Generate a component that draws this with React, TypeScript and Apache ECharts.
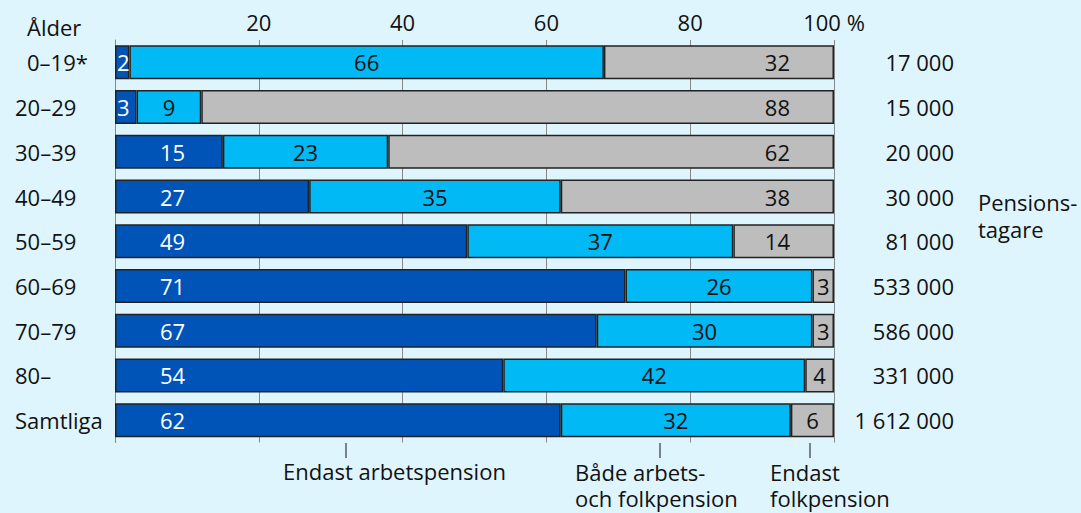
import React, { useEffect, useRef } from "react";
import * as echarts from "echarts";

const categories = ["0–19*", "20–29", "30–39", "40–49", "50–59", "60–69", "70–79", "80–", "Samtliga"];
const onlyWork = [2, 3, 15, 27, 49, 71, 67, 54, 62];
const both = [66, 9, 23, 35, 37, 26, 30, 42, 32];
const onlyFolk = [32, 88, 62, 38, 14, 3, 3, 4, 6];
const pensioners = ["17 000", "15 000", "20 000", "30 000", "81 000", "533 000", "586 000", "331 000", "1 612 000"];
const seriesNames = ["Endast arbetspension", "Både arbets-\noch folkpension", "Endast\nfolkpension"];
const rightTitle = ["Pensions-", "tagare"];

const FONT = "Open Sans";
const FS = 22;
const BG = "#dff5fd";
const DARK = "#0054b8";
const CYAN = "#00b9f5";
const GRAY = "#bdbdbd";
const BORDER = "#222222";

export default function App() {
  const ref = useRef<HTMLDivElement>(null);
  useEffect(() => {
    document.body.style.margin = "0";
    const chart = echarts.init(ref.current!, null, { renderer: "svg" });
    const itemBase = { borderColor: BORDER, borderWidth: 1.5 };
    const font = `${FS}px '${FONT}'`;
    const lineTexts = (lines: string[], left: number, top: number, step: number) =>
      lines.map((t, i) => ({ type: "text", left, top: top + i * step, style: { text: t, font, fill: "#111" } }));
    chart.setOption({
      animation: false,
      backgroundColor: BG,
      textStyle: { fontFamily: FONT, fontSize: FS, color: "#111" },
      grid: { left: 115, right: 247, top: 40, bottom: 70.5 },
      xAxis: {
        type: "value",
        position: "top",
        min: 0,
        max: 100,
        interval: 20,
        axisLine: { show: false },
        axisTick: { show: false },
        axisLabel: {
          margin: 7,
          fontFamily: FONT,
          fontSize: FS,
          color: "#111",
          formatter: (v: number) => (v === 0 ? "" : v === 100 ? "100 %" : String(v)),
        },
        splitLine: { show: true, lineStyle: { color: "#888", width: 1 } },
      },
      yAxis: [
        {
          type: "category",
          data: categories,
          inverse: true,
          axisLine: { show: true, lineStyle: { color: "#888", width: 1 } },
          axisTick: { show: false },
          axisLabel: {
            align: "left",
            margin: 100,
            fontFamily: FONT,
            fontSize: FS,
            color: "#111",
            formatter: (v: string) => (v === categories[0] ? "{ind|" + v + "}" : v),
            rich: { ind: { padding: [0, 0, 0, 12], fontFamily: FONT, fontSize: FS, color: "#111" } },
          },
        },
        {
          type: "category",
          data: pensioners,
          inverse: true,
          position: "right",
          axisLine: { show: false },
          axisTick: { show: false },
          axisLabel: { align: "right", margin: 120, fontFamily: FONT, fontSize: FS, color: "#111" },
        },
      ],
      series: [
        {
          name: seriesNames[0],
          type: "bar",
          stack: "a",
          barWidth: 34,
          yAxisIndex: 0,
          itemStyle: { color: DARK, ...itemBase },
          label: { show: true, position: "insideLeft", color: "#fff", fontFamily: FONT, fontSize: FS },
          data: onlyWork.map((v) => ({ value: v, label: { distance: v < 5 ? 2 : 45 } })),
        },
        {
          name: seriesNames[1],
          type: "bar",
          stack: "a",
          barWidth: 34,
          yAxisIndex: 0,
          itemStyle: { color: CYAN, ...itemBase },
          label: { show: true, position: "inside", color: "#111", fontFamily: FONT, fontSize: FS },
          data: both,
        },
        {
          name: seriesNames[2],
          type: "bar",
          stack: "a",
          barWidth: 34,
          yAxisIndex: 0,
          itemStyle: { color: GRAY, ...itemBase },
          label: { show: true, color: "#111", fontFamily: FONT, fontSize: FS },
          data: onlyFolk.map((v) => ({
            value: v,
            label: v >= 10 ? { position: "insideRight", distance: 44 } : { position: "inside" },
          })),
        },
      ],
      graphic: [
        { type: "text", left: 27, top: 16, style: { text: "Ålder", font, fill: "#111" } },
        ...lineTexts(rightTitle, 978, 191, 27),
        { type: "line", shape: { x1: 346, y1: 443, x2: 346, y2: 458 }, style: { stroke: "#111", lineWidth: 1 } },
        { type: "line", shape: { x1: 660, y1: 443, x2: 660, y2: 458 }, style: { stroke: "#111", lineWidth: 1 } },
        { type: "line", shape: { x1: 810, y1: 443, x2: 810, y2: 458 }, style: { stroke: "#111", lineWidth: 1 } },
        ...lineTexts(seriesNames[0].split("\n"), 283, 460, 26),
        ...lineTexts(seriesNames[1].split("\n"), 575, 461, 26),
        ...lineTexts(seriesNames[2].split("\n"), 770, 461, 26),
      ],
    });
    return () => chart.dispose();
  }, []);
  return <div ref={ref} style={{ width: 1081, height: 513 }} />;
}
